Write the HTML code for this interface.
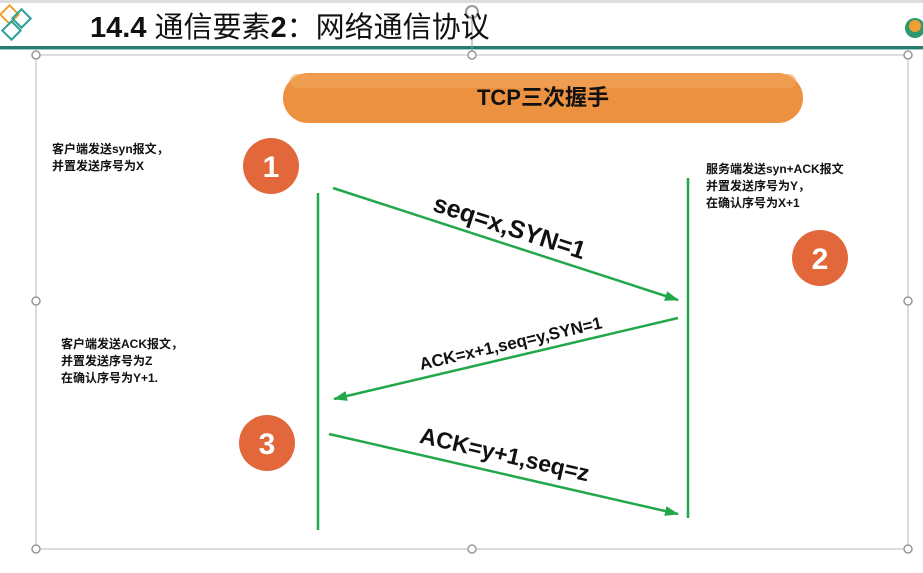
<!DOCTYPE html>
<html><head><meta charset="utf-8"><style>
body{margin:0;width:923px;height:573px;background:#fff;overflow:hidden;position:relative;font-family:"Liberation Sans","Noto Sans CJK SC",sans-serif}
.t{position:absolute;font-size:12px;line-height:17px;color:#111;font-weight:bold}
</style></head><body>
<svg width="923" height="573" style="position:absolute;left:0;top:0">
<defs><marker id="a" markerWidth="14" markerHeight="10" refX="13" refY="5" orient="auto" markerUnits="userSpaceOnUse"><path d="M0,0 L14,5 L0,10z" fill="#22a84a"/></marker></defs>
<rect x="0" y="0" width="923" height="3" fill="#ddd"/>
<g fill="none" stroke-width="2">
<rect x="3" y="8" width="13" height="13" transform="rotate(45 9.5 14.5)" stroke="#f0a030"/>
<rect x="15" y="12" width="13" height="13" transform="rotate(45 21.5 18.5)" stroke="#2aa198"/>
<rect x="5" y="24" width="13" height="13" transform="rotate(45 11.5 30.5)" stroke="#2aa198"/>
</g>
<rect x="0" y="46" width="923" height="3" fill="#2b7a6e"/>
<rect x="0" y="49" width="923" height="1" fill="#9cc"/>
<circle cx="915" cy="28" r="10" fill="#2b9a6e"/><circle cx="915" cy="26" r="6" fill="#f0a030"/>
<rect x="36" y="55" width="872" height="494" fill="none" stroke="#bbb"/>
<line x1="472" y1="10" x2="472" y2="55" stroke="#999"/>
<circle cx="472" cy="12" r="6" fill="#fff" stroke="#999" stroke-width="2"/>
<g fill="#fff" stroke="#999" stroke-width="1.5">
<circle cx="36" cy="55" r="4"/><circle cx="472" cy="55" r="4"/><circle cx="908" cy="55" r="4"/>
<circle cx="36" cy="301" r="4"/><circle cx="908" cy="301" r="4"/>
<circle cx="36" cy="549" r="4"/><circle cx="472" cy="549" r="4"/><circle cx="908" cy="549" r="4"/>
</g>
<rect x="283" y="73" width="520" height="50" rx="25" fill="#ec9140"/>
<rect x="290" y="74" width="506" height="14" rx="7" fill="#f2a55c" opacity=".6"/>
<circle cx="271" cy="166" r="28" fill="#e2683c"/>
<circle cx="820" cy="258" r="28" fill="#e2683c"/>
<circle cx="267" cy="443" r="28" fill="#e2683c"/>
<g stroke="#22a84a" stroke-width="2.5">
<line x1="318" y1="193" x2="318" y2="530"/>
<line x1="688" y1="178" x2="688" y2="518"/>
<line x1="333" y1="188" x2="678" y2="300" marker-end="url(#a)"/>
<line x1="678" y1="318" x2="334" y2="399" marker-end="url(#a)"/>
<line x1="329" y1="434" x2="678" y2="514" marker-end="url(#a)"/>
</g>
<g font-family="Liberation Sans,sans-serif" font-weight="bold" fill="#fff" font-size="30" text-anchor="middle">
<text x="271" y="177">1</text><text x="820" y="269">2</text><text x="267" y="454">3</text>
</g>
<g font-family="Liberation Sans,sans-serif" font-weight="bold" fill="#111" text-anchor="middle">
<text x="507" y="235" font-size="25" transform="rotate(18 507 235)">seq=x,SYN=1</text>
<text x="512" y="349" font-size="17" transform="rotate(-13 512 349)">ACK=x+1,seq=y,SYN=1</text>
<text x="503" y="462" font-size="23" transform="rotate(13 503 462)">ACK=y+1,seq=z</text>
</g>
</svg>
<div style="position:absolute;left:90px;top:4px;font-size:29px;font-weight:bold;color:#111;font-family:'Liberation Sans','Noto Sans CJK SC',sans-serif">14.4 <span style="font-weight:normal">通信要素</span>2<span style="font-weight:normal">：网络通信协议</span></div>
<div style="position:absolute;left:283px;top:73px;width:520px;height:50px;line-height:50px;text-align:center;font-size:22px;font-weight:bold;color:#111">TCP三次握手</div>
<div class="t" style="left:52px;top:141px">客户端发送syn报文，<br>并置发送序号为X</div>
<div class="t" style="left:706px;top:161px">服务端发送syn+ACK报文<br>并置发送序号为Y，<br>在确认序号为X+1</div>
<div class="t" style="left:61px;top:336px">客户端发送ACK报文，<br>并置发送序号为Z<br>在确认序号为Y+1.</div>
</body></html>
